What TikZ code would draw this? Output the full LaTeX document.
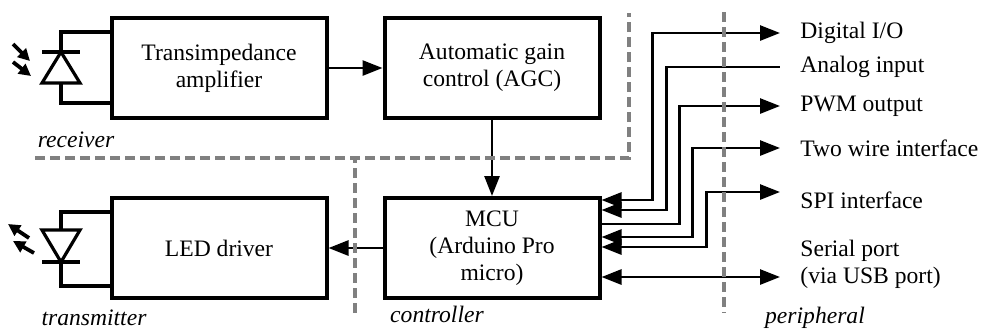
\documentclass[tikz,border=0pt]{standalone}
\usepackage{fontspec}
\setmainfont{Liberation Serif}
\usepackage{xcolor}
\usepackage{tikz}
\usetikzlibrary{arrows.meta, positioning}
\definecolor{zonegray}{RGB}{128, 128, 128}

\begin{document}
\begin{tikzpicture}[
    x=0.5pt, y=-0.5pt,
    node distance=27pt,
    font=\fontsize{11.8}{13.5}\selectfont,
    block/.style={rectangle, draw, line width=2pt, minimum width=107.5pt, minimum height=50pt, align=center, inner sep=2pt},
    arrow/.style={line width=1.35pt, >={Triangle[length=10pt, width=7.5pt]}},
    wire/.style={line width=1.6pt},
    ray/.style={line width=1.9pt, -{Triangle[length=6pt, width=6pt]}},
    zone/.style={draw=zonegray, line width=2pt, dash pattern=on 5pt off 2.5pt},
    tag/.style={font=\fontsize{11.8}{13.5}\selectfont\itshape},
    plabel/.style={align=left, inner sep=0pt}
]
    \useasboundingbox (0,0) rectangle (984,329);

    \node[block] (tia) at (219,68) {Transimpedance\\amplifier};
    \node[block, right=of tia] (agc) {Automatic gain\\control (AGC)};
    \node[block, below=38pt of tia] (led) {LED driver};
    \node[block, below=38pt of agc] (mcu) {MCU\\(Arduino Pro\\micro)};

    \draw[arrow, ->] (tia) -- (agc);
    \draw[arrow, ->] (agc) -- (mcu);
    \draw[arrow, ->] (mcu) -- (led);

    % photodiode
    \draw[wire] ([yshift=18pt]tia.west) -| (61,52);
    \draw[wire] ([yshift=-17.5pt]tia.west) -| (61,83);
    \draw[wire] (42,52) -- (80,52);
    \draw[wire] (42,83) -- (80,83) -- (61,52) -- cycle;
    \draw[ray] (13,44) -- (30,61);
    \draw[ray] (13,62) -- (31,76);

    % LED
    \draw[wire] ([yshift=18pt]led.west) -| (61,230);
    \draw[wire] ([yshift=-19pt]led.west) -| (61,262);
    \draw[wire] (42,230) -- (80,230) -- (61,262) -- cycle;
    \draw[wire] (42,262) -- (80,262);
    \draw[ray] (29,238) -- (8,224);
    \draw[ray] (34,253) -- (13,241);

    % peripheral ends
    \coordinate (dio) at (780,33);
    \coordinate (ain) at (780,67);
    \coordinate (pwm) at (780,106);
    \coordinate (twi) at (780,148);
    \coordinate (spi) at (780,192);
    \coordinate (ser) at (780,277);

    \draw[arrow, <->] ([yshift=24pt]mcu.east) -- ++(25.5pt,0pt) |- (dio);
    \draw[arrow, <-] ([yshift=19pt]mcu.east) -- ++(32.5pt,0pt) |- (ain);
    \draw[arrow, ->] ([yshift=12pt]mcu.east) -- ++(39pt,0pt) |- (pwm);
    \draw[arrow, <->] ([yshift=5.5pt]mcu.east) -- ++(45.5pt,0pt) |- (twi);
    \draw[arrow, <->] ([yshift=0.5pt]mcu.east) -- ++(52.5pt,0pt) |- (spi);
    \draw[arrow, <->] ([yshift=-14.5pt]mcu.east) -- (ser);

    \node[plabel, right=10pt of dio] (dioL) {Digital I/O};
    \node[plabel, right=10pt of ain] (ainL) {Analog input};
    \node[plabel, right=10pt of pwm] (pwmL) {PWM output};
    \node[plabel, right=10pt of twi] (twiL) {Two wire interface};
    \node[plabel, right=10pt of spi, yshift=-4pt] (spiL) {SPI interface};
    \node[plabel, right=10pt of ser, yshift=6.5pt] (serL) {Serial port\\(via USB port)};

    % zones
    \draw[zone] (35,158) -- (629,158) -- (629,13);
    \draw[zone] (355,313) -- (355,158);
    \draw[zone] (724,12) -- (724,313);

    \node[tag] (rxtag) at (76,140) {receiver};
    \node[tag] (txtag) at (94,318) {transmitter};
    \node[tag] (ctltag) at (437,314) {controller};
    \node[tag] (pertag) at (815,318) {peripheral};
\end{tikzpicture}
\end{document}
